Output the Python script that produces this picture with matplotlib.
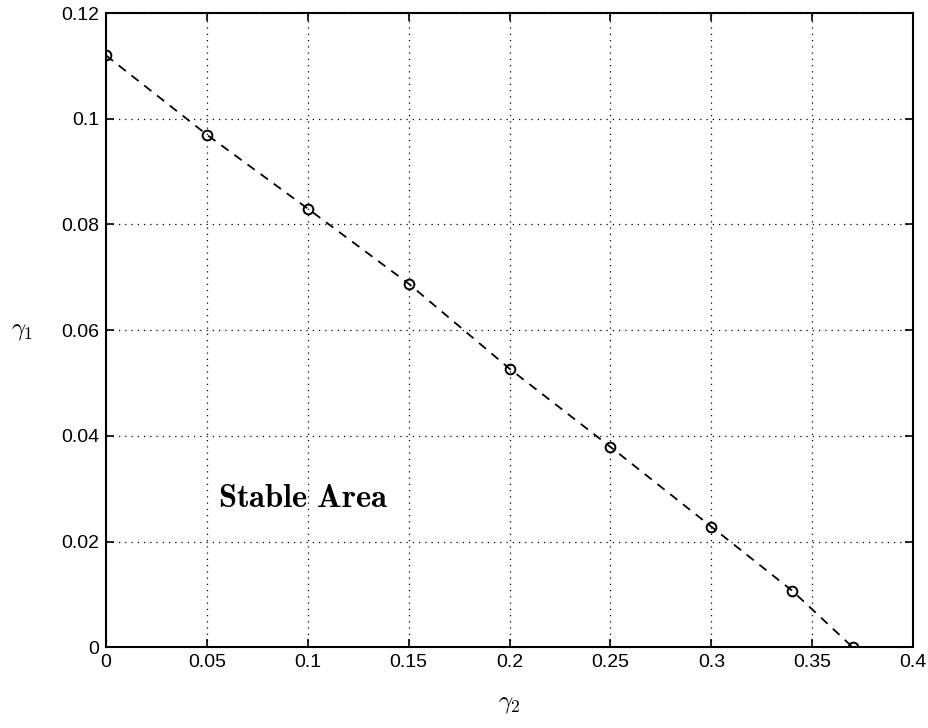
import matplotlib
matplotlib.use("Agg")
import matplotlib.pyplot as plt

# stability boundary: gamma_2 vs gamma_1
gamma2 = [0.0, 0.05, 0.10, 0.15, 0.20, 0.25, 0.30, 0.34, 0.37]
gamma1 = [0.112, 0.097, 0.083, 0.0688, 0.0527, 0.0379, 0.0228, 0.0107, 0.0]

xticks = [0, 0.05, 0.1, 0.15, 0.2, 0.25, 0.3, 0.35, 0.4]
xticklabels = ["0", "0.05", "0.1", "0.15", "0.2", "0.25", "0.3", "0.35", "0.4"]
yticks = [0, 0.02, 0.04, 0.06, 0.08, 0.1, 0.12]
yticklabels = ["0", "0.02", "0.04", "0.06", "0.08", "0.1", "0.12"]

plt.rcParams["font.family"] = "Liberation Sans"
plt.rcParams["mathtext.fontset"] = "cm"

fig = plt.figure(figsize=(9.29, 7.28), dpi=100)
ax = fig.add_axes([0.114, 0.111, 0.869, 0.871])

ax.plot(gamma2, gamma1, "k--", lw=1.3, dashes=(5, 4))
ax.plot(gamma2, gamma1, "o", mfc="none", mec="k", ms=7, mew=1.4)

ax.set_xlim(0, 0.4)
ax.set_ylim(0, 0.12)
ax.set_xticks(xticks)
ax.set_xticklabels(xticklabels)
ax.set_yticks(yticks)
ax.set_yticklabels(yticklabels)
ax.tick_params(direction="in", top=True, right=True, labelsize=14, length=6, width=1.2, pad=5)
ax.grid(True, color="k", linestyle=(0, (1, 4)), linewidth=0.9)
for s in ax.spines.values():
    s.set_linewidth(1.5)

ax.set_xlabel(r"$\gamma_2$", fontsize=18, labelpad=14)
ax.set_ylabel(r"$\gamma_1$", fontsize=18, rotation=0, labelpad=28, va="center")

ax.text(0.0555, 0.0282, r"$\mathbf{Stable\ Area}$", fontsize=23.5, va="center", ha="left")

fig.savefig("out.png", dpi=100)
